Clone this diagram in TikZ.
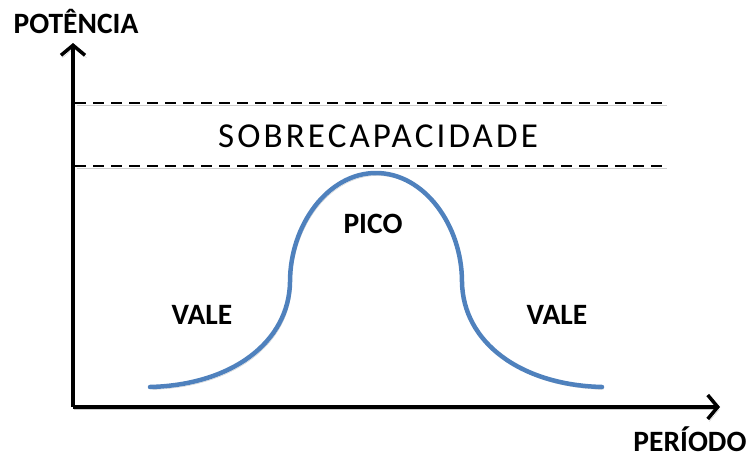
\documentclass[tikz,border=0pt]{standalone}
\usepackage{fontspec}
\setmainfont{Carlito}
\usepackage{xcolor}
\usetikzlibrary{arrows.meta}

\definecolor{loadblue}{RGB}{79,129,189}

\begin{document}
\begin{tikzpicture}[
    x=1pt, y=-1pt,
    shadowed/.style={preaction={draw=black, opacity=0.2, transform canvas={shift={(1.5pt,-2.5pt)}}}},
    axis/.style={line width=3.5pt, -{Straight Barb[length=10pt, width=24pt]}, shadowed},
    limit/.style={line width=2.8pt, dash pattern=on 10.5pt off 7.5pt, shadowed},
    curve/.style={line width=4.5pt, draw=loadblue, line cap=round, shadowed},
    label/.style={inner sep=0pt, anchor=base, font=\fontsize{29.5}{32}\selectfont\bfseries}
]
    \useasboundingbox (0,0) rectangle (747,455);

    \coordinate (origin) at (73,407);
    \coordinate (ytip) at (73,43);
    \coordinate (xtip) at (720,407);

    % axes
    \draw[axis] (origin) -- (ytip);
    \draw[axis] (origin) -- (xtip);
    \node[label] (power) at (76,33) {POTÊNCIA};
    \node[label] (period) at (690,451) {PERÍODO};

    % overcapacity band
    \coordinate (top1) at (75,103);
    \coordinate (top2) at (665,103);
    \coordinate (bot1) at (75,166);
    \coordinate (bot2) at (665,166);
    \draw[limit] (top1) -- (top2);
    \draw[limit] (bot1) -- (bot2);
    \node[inner sep=0pt, anchor=base, font=\fontsize{35}{38}\selectfont\addfontfeature{LetterSpace=9}] (over) at (378,147) {SOBRECAPACIDADE};

    % load curve
    \coordinate (start) at (150,387);
    \coordinate (risel) at (290,282);
    \coordinate (peak) at (376,173);
    \coordinate (riser) at (462,282);
    \coordinate (stop) at (602,387);
    \draw[curve] (start) .. controls (232,385) and (289,342) .. (risel)
                 .. controls (290,225) and (328,173) .. (peak)
                 .. controls (424,173) and (462,225) .. (riser)
                 .. controls (463,342) and (520,385) .. (stop);

    \node[label] (pico) at (373,233) {PICO};
    \node[label] (vale1) at (202,324) {VALE};
    \node[label] (vale2) at (557,324) {VALE};
\end{tikzpicture}
\end{document}
